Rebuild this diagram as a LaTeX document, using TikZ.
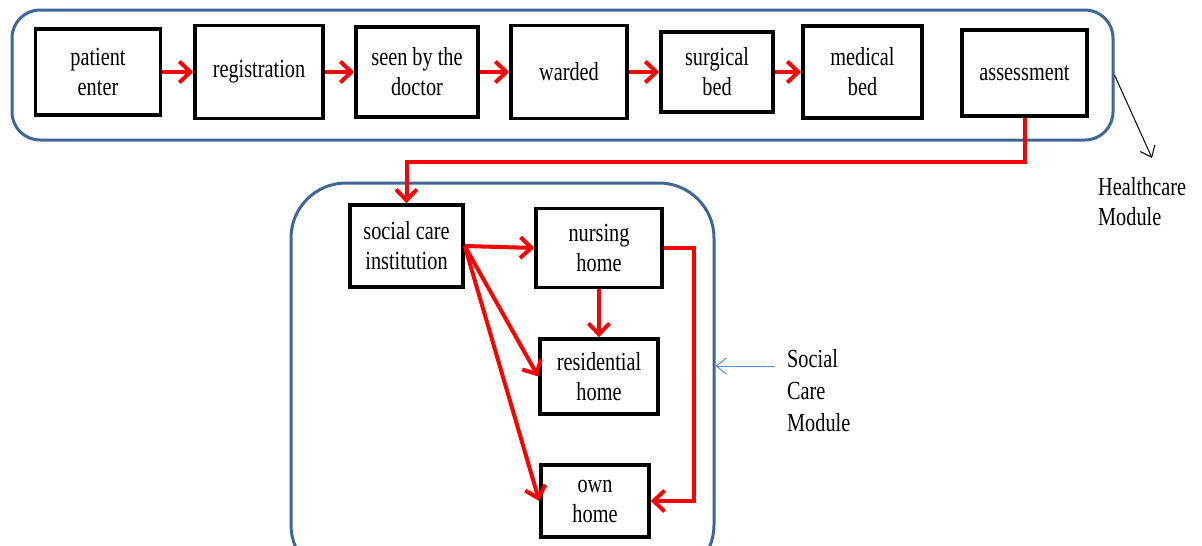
\documentclass[tikz,border=0pt]{standalone}
\usepackage{fontspec}
\setmainfont{Liberation Serif}[FakeStretch=0.78]
\usetikzlibrary{arrows.meta,calc}
\definecolor{ModBlue}{HTML}{3E6699}
\definecolor{PinBlue}{HTML}{5B8BD6}
\tikzset{
    block/.style = {draw, rectangle, line width=3.5pt, inner sep=0pt, align=center},
    module/.style = {draw=ModBlue, line width=3pt, rectangle, inner sep=0pt},
    flow/.style = {draw=red, line width=4pt, -{Straight Barb[length=11pt,width=21pt]}},
    pinarrow/.style = {line width=1pt, -{Straight Barb[length=10pt,width=16pt]}},
    modlabel/.style = {anchor=north west, inner sep=0pt, align=left}
}
\begin{document}
\begin{tikzpicture}[x=1pt, y=-1pt, font=\fontsize{26}{30}\selectfont]
  \useasboundingbox (0,0) rectangle (1202,546);
  \clip (0,0) rectangle (1202,546);
  \node[module, rounded corners=28pt, minimum width=1101pt, minimum height=130pt] (hcmod) at (562.5,75) {};
  \node[module, rounded corners=55pt, minimum width=423pt, minimum height=397pt] (scmod) at (502.5,381.5) {};
  \node[block, minimum width=125pt, minimum height=86pt] (pe) at (98,72) {patient\\enter};
  \node[block, minimum width=128pt, minimum height=93pt] (reg) at (259,72) {registration};
  \node[block, minimum width=122pt, minimum height=90pt] (seen) at (417,72) {seen by the\\doctor};
  \node[block, minimum width=116pt, minimum height=93pt] (ward) at (569,72) {warded};
  \node[block, minimum width=112pt, minimum height=80pt] (surg) at (717,72) {surgical\\bed};
  \node[block, minimum width=119pt, minimum height=92pt] (med) at (862.5,72) {medical\\bed};
  \node[block, minimum width=125pt, minimum height=86pt] (assess) at (1024.5,73) {assessment};
  \node[block, minimum width=113pt, minimum height=82pt] (sci) at (406.5,246) {social care\\institution};
  \node[block, minimum width=126pt, minimum height=79pt] (nurse) at (599,248) {nursing\\home};
  \node[block, minimum width=118pt, minimum height=75pt] (resi) at (599,376.5) {residential\\home};
  \node[block, minimum width=108pt, minimum height=72pt] (own) at (595,501) {own\\home};
  \node[modlabel] (hmlabel) at (1098,177) {Healthcare\\Module};
  \node[modlabel, font=\fontsize{26}{32}\selectfont] (smlabel) at (787,349) {Social\\Care\\Module};
  \coordinate (hmtip) at (1152,158);
  \coordinate (smtail) at (775,366);
  \foreach \a/\b in {pe/reg,reg/seen,seen/ward,ward/surg,surg/med}{
    \draw[flow] (\a) -- (\b);
  };
  \draw[flow] (assess.south) -- ++(0,44) -| (sci.north);
  \foreach \b in {nurse,resi,own}{
    \draw[flow] (sci.east) -- (\b.west);
  };
  \draw[flow] (nurse.south) -- (resi.north);
  \draw[flow] (nurse.east) -- ++(30,0) |- (own.east);
  \draw[pinarrow] (hcmod.east) -- (hmtip);
  \draw[pinarrow, PinBlue] (smtail) -- (smtail -| scmod.east);
\end{tikzpicture}
\end{document}
